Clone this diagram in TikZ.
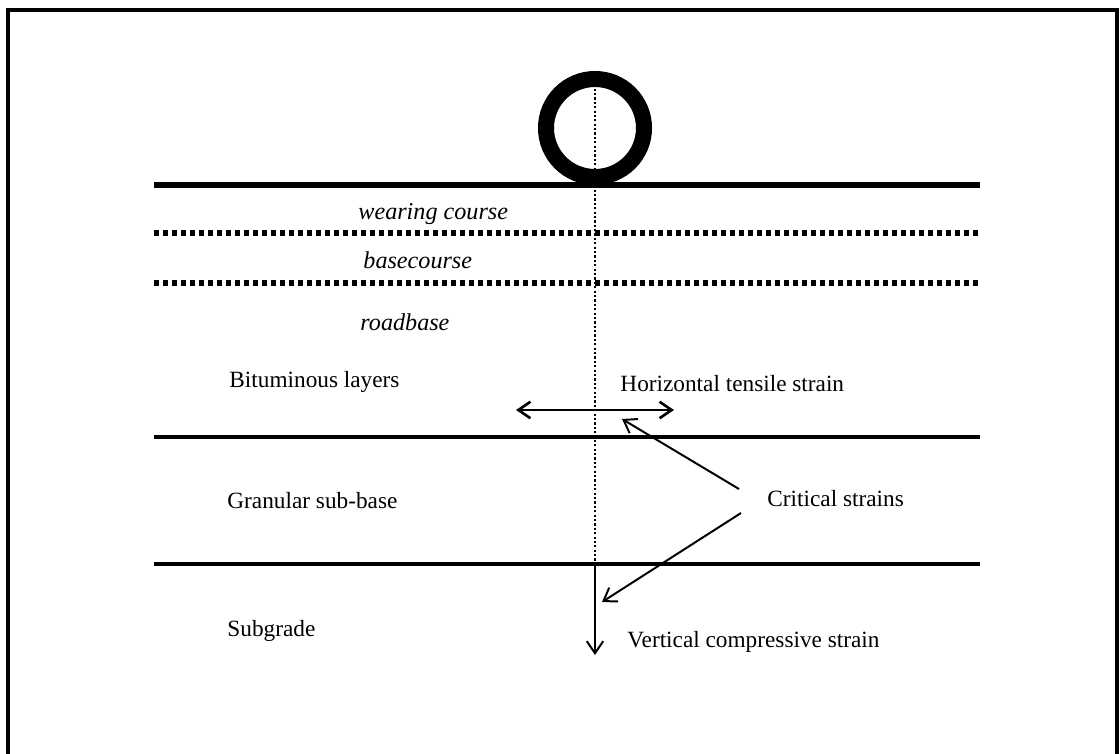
\documentclass[tikz,border=0pt]{standalone}
\usepackage{fontspec}
\setmainfont{Liberation Serif}
\usetikzlibrary{arrows.meta}

\begin{document}
\begin{tikzpicture}[x=0.016cm, y=-0.016cm]
\tikzstyle{surface} = [line width=2.3pt]
\tikzstyle{layer} = [line width=1.8pt]
\tikzstyle{interface} = [line width=2.3pt, dash pattern=on 2.3pt off 1.8pt]
\tikzstyle{txt} = [anchor=base west, inner sep=0pt, font=\fontsize{10.6}{12}\selectfont]
\tikzstyle{coursetxt} = [txt, font=\fontsize{11}{13}\selectfont\itshape]
\tikzstyle{arrow} = [line width=0.9pt, >={Straight Barb[length=5.5pt,width=7.5pt]}]

\useasboundingbox (0,0) rectangle (1120,754);
\draw[line width=1.4pt] (8,754) -- (8,10) -- (1117,10) -- (1117,754);

% Wheel and load axis
\node[circle, draw, line width=7.3pt, minimum size=98*0.016cm, inner sep=0pt] (wheel) at (595,128) {};
\coordinate (axisend) at (595,565);
\coordinate (axisbottom) at (595,655);
\draw[line width=0.5pt, dash pattern=on 1pt off 1pt] (wheel.north) -- (axisend);

% Layers
\draw[surface] (154,185) -- (980,185);
\draw[interface] (154,233) -- (982,233);
\draw[interface] (154,283) -- (982,283);
\draw[layer] (154,437) -- (980,437);
\draw[layer] (154,564) -- (980,564);

% Labels
\node[coursetxt] (wearing) at (358,219) {wearing course};
\node[coursetxt] (basecourse) at (363,268) {basecourse};
\node[coursetxt] (roadbase) at (360,330) {roadbase};
\node[txt] (bitum) at (229,387) {Bituminous layers};
\node[txt] (granular) at (227,508) {Granular sub-base};
\node[txt] (subgrade) at (227,636) {Subgrade};
\node[txt] (horiz) at (620,391) {Horizontal tensile strain};
\node[txt] (critical) at (767,506) {Critical strains};
\node[txt] (vert) at (627,647) {Vertical compressive strain};

% Strain arrows
\coordinate (hleft) at (516,410);
\coordinate (hright) at (674,410);
\coordinate (crit1) at (739,489);
\coordinate (crit2) at (741,513);
\coordinate (tens) at (622,419);
\coordinate (comp) at (602,602);
\draw[arrow, line width=1.2pt, <->] (hleft) -- (hright);
\draw[arrow, ->] (crit1) -- (tens);
\draw[arrow, ->] (crit2) -- (comp);
\draw[arrow, ->] (axisend) -- (axisbottom);
\end{tikzpicture}
\end{document}
